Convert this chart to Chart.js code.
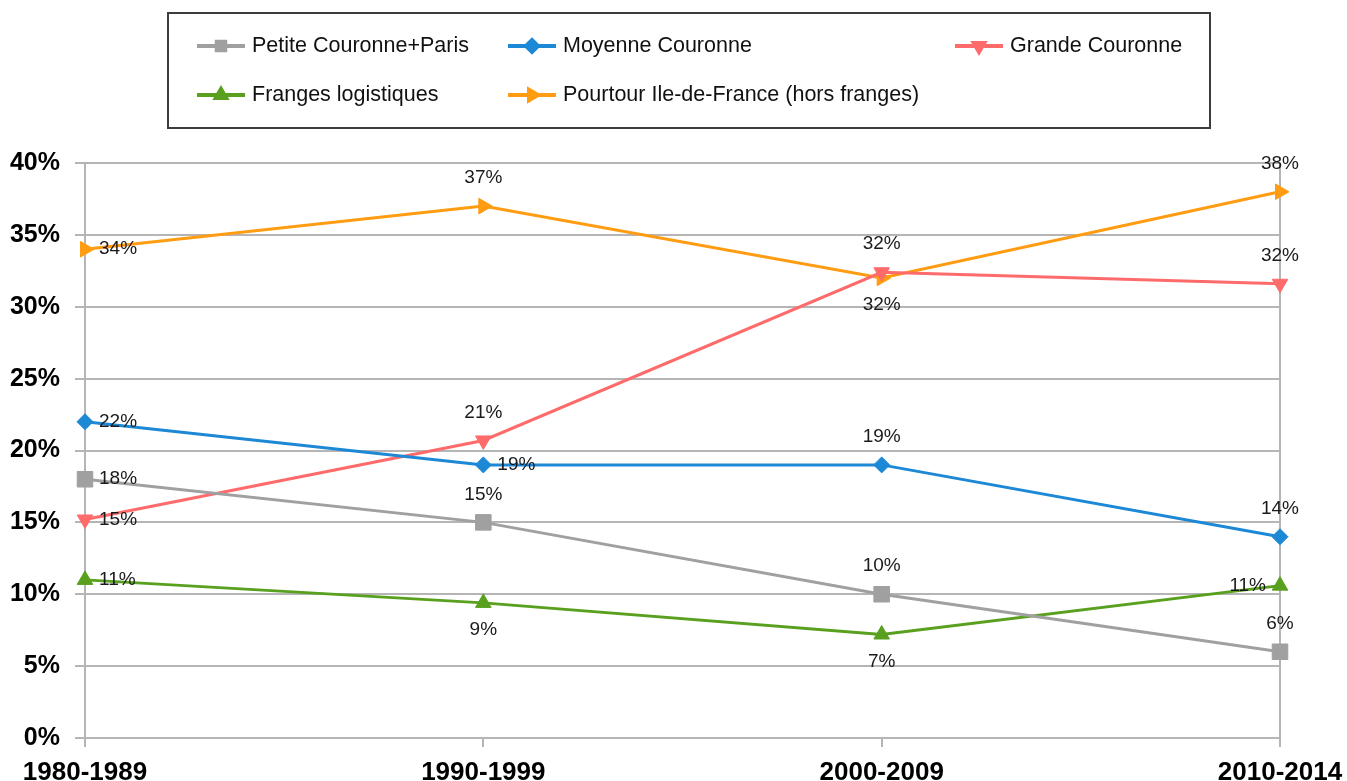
<!DOCTYPE html>
<html>
<head>
<meta charset="utf-8">
<script src="https://cdn.jsdelivr.net/npm/chart.js@4.4.1/dist/chart.umd.min.js"></script>
<style>
  html, body { margin: 0; padding: 0; background: #fff; }
  #wrap { width: 1347px; height: 781px; }
</style>
</head>
<body>
<div id="wrap"><canvas id="chart" width="1347" height="781"></canvas></div>
<script>
// data (percent)
const periods = ['1980-1989', '1990-1999', '2000-2009', '2010-2014'];
const petiteCouronne = [18, 15, 10, 6];
const moyenneCouronne = [22, 19, 19, 14];
const grandeCouronne = [15.2, 20.7, 32.4, 31.6];
const frangesLogistiques = [11, 9.4, 7.2, 10.6];
const pourtourIdf = [34, 37, 32, 38];
const yTicks = [0, 5, 10, 15, 20, 25, 30, 35, 40];

const FONT = "'Liberation Sans', Arial, sans-serif";
const GRID = '#b5b5b5';

function series(label, data, color, style, rotation, radius, labelPos) {
    return {
        label: label,
        data: data,
        borderColor: color,
        backgroundColor: color,
        borderWidth: 3,
        tension: 0,
        pointStyle: style,
        rotation: rotation,
        pointRadius: radius,
        pointHoverRadius: radius,
        pointBackgroundColor: color,
        pointBorderColor: color,
        pointBorderWidth: 1,
        labelPos: labelPos
    };
}

// value labels next to each point
const valueLabels = {
    id: 'valueLabels',
    afterDatasetsDraw(chart) {
        const ctx = chart.ctx;
        ctx.save();
        ctx.font = '19px ' + FONT;
        ctx.fillStyle = '#1a1a1a';
        chart.data.datasets.forEach(function (ds, i) {
            const meta = chart.getDatasetMeta(i);
            meta.data.forEach(function (pt, j) {
                const txt = Math.round(ds.data[j]) + '%';
                const pos = ds.labelPos[j];
                let x = pt.x, y = pt.y;
                ctx.textBaseline = 'middle';
                ctx.textAlign = 'center';
                if (pos === 'right') { x += 14; ctx.textAlign = 'left'; }
                else if (pos === 'left') { x -= 14; ctx.textAlign = 'right'; }
                else if (pos === 'above') { y -= 28; }
                else if (pos === 'below') { y += 27; }
                ctx.fillText(txt, x, y);
            });
        });
        ctx.restore();
    }
};

// boxed legend at the top, two rows
const boxLegend = {
    id: 'boxLegend',
    afterDraw(chart) {
        const ctx = chart.ctx;
        const slots = [[197, 46], [508, 46], [955, 46], [197, 95], [508, 95]];
        ctx.save();
        ctx.strokeStyle = '#3c3c3c';
        ctx.lineWidth = 2;
        ctx.strokeRect(168, 13, 1042, 115);
        ctx.font = '21.5px ' + FONT;
        ctx.textBaseline = 'middle';
        ctx.textAlign = 'left';
        chart.data.datasets.forEach(function (ds, i) {
            const [x, y] = slots[i];
            ctx.strokeStyle = ds.borderColor;
            ctx.lineWidth = 4;
            ctx.beginPath();
            ctx.moveTo(x, y);
            ctx.lineTo(x + 48, y);
            ctx.stroke();
            ctx.fillStyle = ds.borderColor;
            Chart.helpers.drawPoint(ctx, {
                pointStyle: ds.pointStyle,
                rotation: ds.rotation,
                radius: 6,
                borderWidth: 1
            }, x + 24, y);
            ctx.fillStyle = '#111';
            ctx.fillText(ds.label, x + 55, y);
        });
        ctx.restore();
    }
};

const ctx = document.getElementById('chart').getContext('2d');
const chart = new Chart(ctx, {
    type: 'line',
    data: {
        labels: periods,
        datasets: [
            series('Petite Couronne+Paris', petiteCouronne, '#a0a0a0', 'rect', 0, 11, ['right', 'above', 'above', 'above']),
            series('Moyenne Couronne', moyenneCouronne, '#1c88d6', 'rectRot', 0, 8, ['right', 'right', 'above', 'above']),
            series('Grande Couronne', grandeCouronne, '#ff6b6b', 'triangle', 180, 9, ['right', 'above', 'above', 'above']),
            series('Franges logistiques', frangesLogistiques, '#58a01e', 'triangle', 0, 9, ['right', 'below', 'below', 'left']),
            series('Pourtour Ile-de-France (hors franges)', pourtourIdf, '#ff9c12', 'triangle', 90, 9, ['right', 'above', 'below', 'above'])
        ]
    },
    options: {
        responsive: false,
        animation: false,
        events: [],
        layout: { padding: { top: 163, right: 67, bottom: 0, left: 0 } },
        plugins: {
            legend: { display: false },
            tooltip: { enabled: false }
        },
        scales: {
            x: {
                offset: false,
                afterFit: function (s) { s.height = 43; s.paddingLeft = 0; s.paddingRight = 0; },
                grid: {
                    drawOnChartArea: true,
                    color: c => (c.index === 0 || c.index === periods.length - 1) ? GRID : 'rgba(0,0,0,0)',
                    tickColor: GRID,
                    tickLength: 9,
                    lineWidth: 2
                },
                border: { display: true, color: GRID, width: 2 },
                ticks: {
                    autoSkip: false,
                    maxRotation: 0,
                    padding: 10,
                    color: '#000',
                    font: { family: FONT, size: 26, weight: 'bold' }
                }
            },
            y: {
                min: 0,
                max: 40,
                afterFit: function (s) { s.width = 85; },
                afterBuildTicks: function (s) { s.ticks = yTicks.map(v => ({ value: v })); },
                grid: { color: GRID, lineWidth: 2, tickLength: 10 },
                border: { display: true, color: GRID, width: 2 },
                ticks: {
                    padding: 15,
                    color: '#000',
                    font: { family: FONT, size: 25, weight: 'bold' },
                    callback: v => v + '%'
                }
            }
        }
    },
    plugins: [valueLabels, boxLegend]
});
</script>
</body>
</html>
